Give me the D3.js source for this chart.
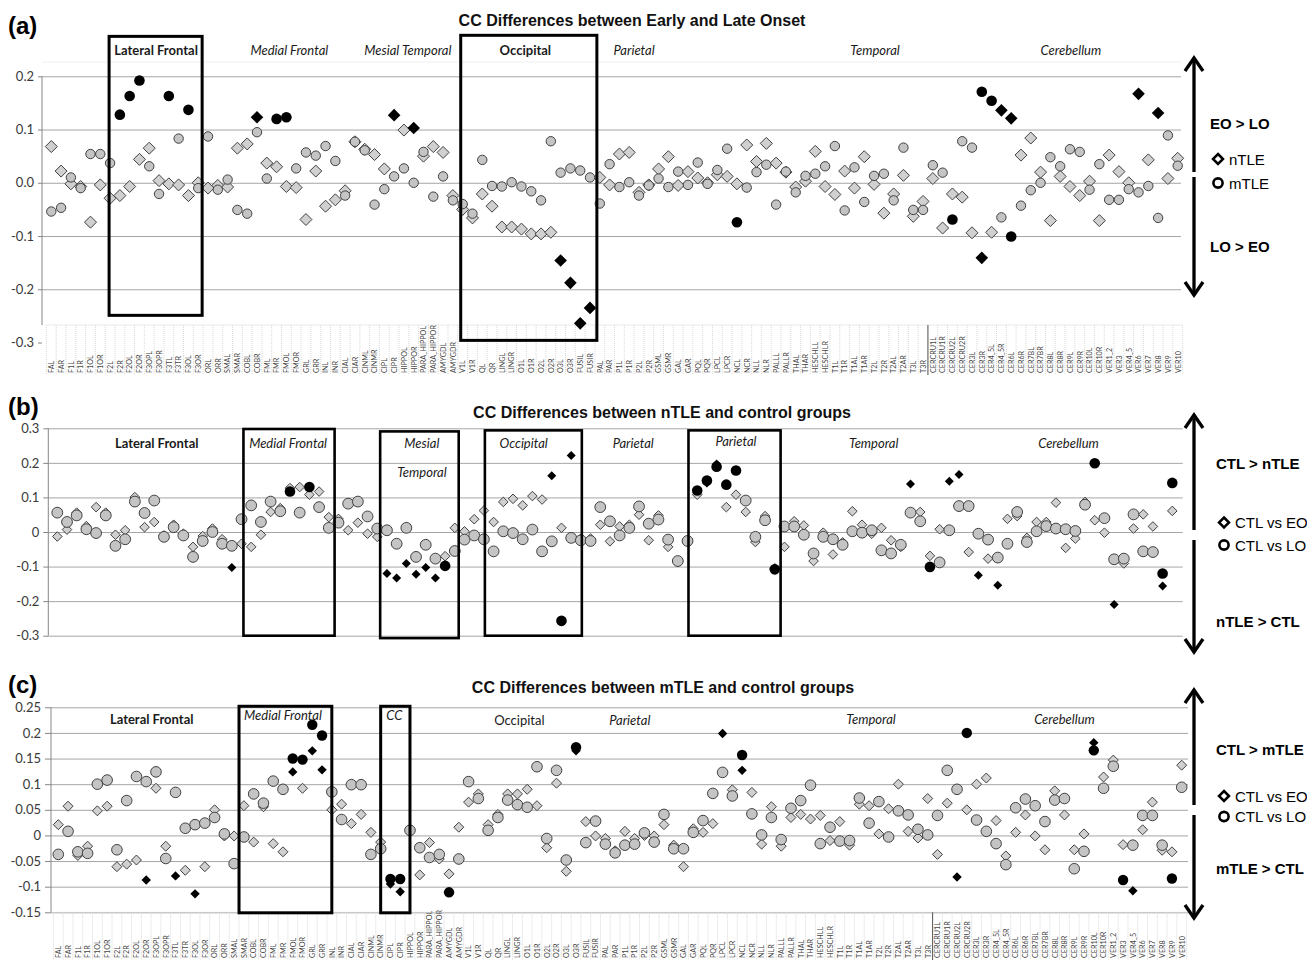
<!DOCTYPE html>
<html>
<head>
<meta charset="utf-8">
<script src="https://cdn.jsdelivr.net/npm/d3@7"></script>
<style>
body { margin: 0; background: #fff; }
svg { display: block; }
</style>
</head>
<body>
<div id="chart"></div>
<script>
(function(){

var width = 1307,
	height = 961;

// brain regions along the x axis (same order in all three panels)
var regions = ["FAL","FAR","F1L","F1R","F1OL","F1OR","F2L","F2R","F2OL","F2OR",
	"F3OPL","F3OPR","F3TL","F3TR","F3OL","F3OR","ORL","ORR","SMAL","SMAR",
	"COBL","COBR","FML","FMR","FMOL","FMOR","GRL","GRR","INL","INR",
	"CIAL","CIAR","CINML","CINMR","CIPL","CIPR","HIPPOL","HIPPOR","PARA_HIPPOL","PARA_HIPPOR",
	"AMYGDL","AMYGDR","V1L","V1R","QL","QR","LINGL","LINGR","O1L","O1R",
	"O2L","O2R","O3L","O3R","FUSIL","FUSIR","PAL","PAR","P1L","P1R",
	"P2L","P2R","GSML","GSMR","GAL","GAR","PQL","PQR","LPCL","LPCR",
	"NCL","NCR","NLL","NLR","PALLL","PALLR","THAL","THAR","HESCHLL","HESCHLR",
	"T1L","T1R","T1AL","T1AR","T2L","T2R","T2AL","T2AR","T3L","T3R",
	"CERCRU1L","CERCRU1R","CERCRU2L","CERCRU2R","CER3L","CER3R","CER4_5L","CER4_5R","CER6L","CER6R",
	"CER7BL","CER7BR","CER8L","CER8R","CER9L","CER9R","CER10L","CER10R","VER1_2","VER3",
	"VER4_5","VER6","VER7","VER8","VER9","VER10"];

// (a) early minus late onset : nTLE (diamonds), mTLE (circles)
var a_ntle = [0.068,0.022,-0.002,-0.007,-0.074,-0.004,-0.029,-0.024,-0.007,0.044,
	0.065,0.004,-0.002,-0.004,-0.024,0.000,-0.010,-0.005,-0.008,0.065,
	0.073,0.123,0.037,0.030,-0.007,-0.009,-0.069,0.022,-0.044,-0.032,
	-0.015,0.077,0.063,0.053,0.026,0.127,0.099,0.103,0.050,0.068,
	0.057,-0.024,-0.050,-0.066,-0.021,-0.044,-0.083,-0.083,-0.087,-0.096,
	-0.096,-0.093,-0.146,-0.188,-0.264,-0.235,0.010,-0.004,0.054,0.057,
	-0.018,-0.004,0.026,0.049,-0.005,0.021,0.009,0.000,0.015,0.012,
	-0.002,0.071,0.040,0.074,0.037,0.020,-0.008,0.003,0.059,-0.007,
	-0.022,0.022,-0.010,0.049,-0.003,-0.057,-0.021,0.014,-0.063,-0.035,
	0.008,-0.085,-0.021,-0.027,-0.094,-0.141,-0.093,0.136,0.121,0.052,
	0.084,0.020,-0.071,0.012,-0.007,-0.024,0.003,-0.071,0.052,0.021,
	0.000,0.167,0.043,0.131,0.008,0.046];
var a_mtle = [-0.054,-0.047,0.010,-0.010,0.054,0.054,0.037,0.128,0.163,0.192,
	0.031,-0.021,0.163,0.083,0.137,-0.010,0.087,-0.013,0.006,-0.051,
	-0.058,0.095,0.008,0.120,0.123,0.027,0.057,0.051,0.069,0.041,
	-0.024,0.077,0.061,-0.041,-0.012,0.012,0.027,0.000,0.058,-0.026,
	0.012,-0.033,-0.040,-0.058,0.043,-0.006,-0.007,0.001,-0.007,-0.016,
	-0.033,0.078,0.019,0.027,0.023,0.010,-0.039,0.035,-0.008,0.001,
	-0.024,-0.005,0.008,-0.008,0.021,-0.004,0.038,-0.002,0.024,0.064,
	-0.074,-0.009,0.020,0.034,-0.041,0.021,-0.018,0.013,0.017,0.031,
	0.069,-0.052,0.029,-0.036,0.013,0.017,-0.033,0.066,-0.051,-0.051,
	0.033,0.019,-0.069,0.078,0.066,0.171,0.154,-0.065,-0.101,-0.043,
	-0.014,0.000,0.048,0.031,0.063,0.058,-0.013,0.035,-0.032,-0.032,
	-0.012,-0.018,-0.006,-0.066,0.089,0.032];
var a_ntle_sig = [21,35,37,52,53,54,55,95,97,98,111,113];
var a_mtle_sig = [7,8,9,12,14,23,24,70,92,95,96,98];

// (b) control minus nTLE : CTL vs EO (diamonds), CTL vs LO (circles)
var b_eo = [-0.013,0.007,0.056,0.017,0.072,0.056,-0.008,0.005,0.101,0.014,
	0.029,-0.010,0.021,-0.005,-0.043,-0.012,0.010,-0.021,-0.103,-0.034,
	-0.043,-0.008,0.058,0.069,0.127,0.130,0.108,0.117,0.043,0.038,
	0.005,0.027,-0.005,-0.014,-0.120,-0.133,-0.091,-0.122,-0.103,-0.133,
	-0.070,0.012,0.002,0.037,0.062,0.029,0.087,0.096,0.077,0.104,
	0.094,0.163,0.012,0.221,-0.020,-0.019,0.021,-0.027,0.016,0.021,
	0.050,-0.024,0.048,-0.043,-0.087,-0.025,0.108,0.142,0.197,0.072,
	0.108,0.058,-0.029,0.046,-0.105,-0.043,0.031,0.019,-0.084,-0.002,
	-0.065,-0.030,0.060,0.021,-0.005,0.012,-0.024,-0.043,0.139,0.058,
	-0.069,0.008,0.147,0.166,-0.058,-0.125,-0.077,-0.154,0.038,0.046,
	-0.017,0.029,0.029,0.085,-0.046,-0.019,0.087,0.034,-0.002,-0.210,
	-0.091,0.010,0.051,0.016,-0.156,0.061];
var b_lo = [0.056,0.029,0.048,0.008,-0.003,0.048,-0.040,-0.021,0.088,0.055,
	0.091,-0.014,0.014,-0.010,-0.072,-0.026,0.000,-0.034,-0.040,0.037,
	0.077,0.029,0.088,0.060,0.117,0.056,0.130,0.072,0.012,0.027,
	0.082,0.088,0.045,0.010,0.005,-0.034,0.012,-0.072,-0.037,-0.077,
	-0.098,-0.055,-0.022,-0.010,-0.021,-0.056,0.002,-0.003,-0.021,0.007,
	-0.056,-0.027,-0.257,-0.017,-0.024,-0.026,0.072,0.031,-0.010,0.012,
	0.074,0.024,0.036,-0.022,-0.084,-0.026,0.120,0.149,0.189,0.137,
	0.178,0.091,-0.014,0.034,-0.108,0.016,0.016,-0.008,-0.062,-0.014,
	-0.021,-0.037,0.002,-0.002,0.005,-0.053,-0.062,-0.037,0.056,0.031,
	-0.101,-0.088,0.005,0.075,0.075,-0.005,-0.022,-0.074,-0.034,0.058,
	-0.029,0.002,0.017,0.010,0.008,0.003,0.079,0.199,0.040,-0.079,
	-0.077,0.051,-0.056,-0.058,-0.120,0.142];
var b_eo_sig = [18,34,35,36,37,38,39,51,53,67,68,88,92,93,95,97,109,114];
var b_lo_sig = [24,26,40,52,66,67,68,69,70,74,90,107,114,115];

// (c) control minus mTLE : CTL vs EO (diamonds), CTL vs LO (circles)
var c_eo = [0.021,0.057,-0.039,-0.021,0.048,0.057,-0.061,-0.056,-0.048,-0.087,
	0.092,-0.021,-0.079,-0.068,-0.114,-0.061,0.050,-0.001,-0.001,0.058,
	-0.013,0.056,-0.016,-0.032,0.124,0.092,0.165,0.128,0.050,0.061,
	0.023,0.041,0.006,-0.013,-0.095,-0.110,0.011,-0.077,-0.014,-0.046,
	-0.075,0.016,0.065,0.081,0.021,0.041,0.081,0.081,0.090,0.058,
	-0.024,0.102,-0.070,0.165,0.027,-0.001,-0.006,-0.030,0.008,-0.006,
	0.000,-0.001,0.021,-0.019,-0.061,0.013,0.006,0.023,0.199,0.089,
	0.127,0.084,-0.017,0.056,-0.021,0.035,0.041,0.032,0.039,-0.010,
	0.027,-0.019,0.061,0.058,0.003,0.052,0.100,0.008,-0.005,0.072,
	-0.037,0.063,-0.081,0.050,0.100,0.112,0.029,-0.040,0.006,0.040,
	-0.001,-0.028,0.087,0.040,-0.028,0.003,0.181,0.114,0.147,-0.018,
	-0.108,0.011,0.065,-0.029,-0.032,0.137];
var c_lo = [-0.037,0.008,-0.032,-0.035,0.100,0.108,-0.028,0.068,0.115,0.105,
	0.124,-0.045,0.084,0.014,0.021,0.024,0.035,0.003,-0.055,-0.003,
	0.081,0.063,0.106,0.090,0.150,0.148,0.216,0.195,0.085,0.031,
	0.099,0.099,-0.037,-0.026,-0.085,-0.085,0.010,-0.024,-0.043,-0.037,
	-0.111,-0.046,0.105,0.072,0.010,0.035,0.069,0.060,0.055,0.134,
	-0.006,0.127,-0.048,0.172,-0.014,0.028,-0.017,-0.034,-0.019,-0.017,
	0.005,-0.013,0.041,-0.026,-0.026,0.006,0.029,0.082,0.123,0.077,
	0.157,0.042,0.001,0.035,-0.008,0.053,0.068,0.098,-0.016,0.016,
	-0.011,-0.010,0.073,0.024,0.066,-0.003,0.048,0.040,0.012,0.001,
	0.039,0.127,0.090,0.200,0.030,0.008,-0.016,-0.057,0.054,0.071,
	0.058,0.027,0.069,0.072,-0.065,-0.031,0.166,0.092,0.135,-0.087,
	-0.019,0.039,0.039,-0.019,-0.084,0.094];
var c_eo_sig = [9,12,14,24,26,27,34,35,53,68,70,92,106,110];
var c_lo_sig = [24,25,26,27,34,35,40,53,70,93,106,109,114];

// y tick values
var a_ticks = [0.2,0.1,0,-0.1,-0.2,-0.3];
var b_ticks = [0.3,0.2,0.1,0,-0.1,-0.2,-0.3];
var c_ticks = [0.25,0.2,0.15,0.1,0.05,0,-0.05,-0.1,-0.15];

var titleFont = "'Liberation Sans', Arial, sans-serif",
	bodyFont = "Lato, 'Open Sans', sans-serif",
	grayDiamond = "#d0d0d0",
	grayCircle = "#c4c4c4",
	markerStroke = "#404040",
	gridColor = "#a6a6a6",
	axisColor = "#868686";

var panels = [
	{
		tag: "(a)", tagY: 34,
		title: "CC Differences between Early and Late Onset", titleX: 632, titleY: 26,
		dia: a_ntle, cir: a_mtle, diaSig: a_ntle_sig, cirSig: a_mtle_sig,
		xRange: [51.3, 1177.7], yDomain: [-0.3, 0.2], yRange: [342.5, 76.3],
		grid: [0.2,0.1,0,-0.1,-0.2], ticks: a_ticks, fmt: function(d){ return d.toFixed(1); },
		gridX: [42, 1181], axisX: 42, axisTop: 76.3, axisBottom: 325, tickLen: 4,
		catY: 325, labelsBottom: 373,
		r: 4.7, d: 6.0, rSig: 5.3, dSig: 6.3, boxStroke: 3,
		topLine: 62,
		boxes: [{from: 5.9, to: 15.4, top: 0.275, bottom: -0.249},
			{from: 41.8, to: 55.7, top: 0.277, bottom: -0.296}],
		labels: [
			{name: "Lateral Frontal", at: 10.7, y: 54.5, bold: true},
			{name: "Medial Frontal", at: 24.3, y: 54.5, italic: true},
			{name: "Mesial Temporal", at: 36.4, y: 54.5, italic: true},
			{name: "Occipital", at: 48.4, y: 54.5, bold: true},
			{name: "Parietal", at: 59.5, y: 54.5, italic: true},
			{name: "Temporal", at: 84.1, y: 54.5, italic: true},
			{name: "Cerebellum", at: 104.1, y: 54.5, italic: true}],
		side: {top: 58, bottom: 295, gapTop: 172, gapBottom: 177, textX: 1210,
			up: "EO > LO", upY: 129, down: "LO > EO", downY: 252,
			dia: "nTLE", diaY: 159, cir: "mTLE", cirY: 183}
	},
	{
		tag: "(b)", tagY: 415,
		title: "CC Differences between nTLE and control groups", titleX: 662, titleY: 418,
		dia: b_eo, cir: b_lo, diaSig: b_eo_sig, cirSig: b_lo_sig,
		xRange: [57.3, 1172.3], yDomain: [-0.3, 0.3], yRange: [635.7, 428.3],
		grid: b_ticks, ticks: b_ticks, fmt: function(d){ return String(+d.toFixed(2)); },
		gridX: [48.3, 1182.7], axisX: 48.3, axisTop: 428.3, axisBottom: 635.7, tickLen: 5,
		r: 5.4, d: 4.8, rSig: 5.3, dSig: 4.5, boxStroke: 2.6,
		boxes: [{from: 19.2, to: 28.6, top: 0.298, bottom: -0.300},
			{from: 33.3, to: 41.4, top: 0.291, bottom: -0.307},
			{from: 44.1, to: 54.1, top: 0.294, bottom: -0.300},
			{from: 65.1, to: 74.6, top: 0.294, bottom: -0.300}],
		labels: [
			{name: "Lateral Frontal", at: 10.25, y: 447.5, bold: true},
			{name: "Medial Frontal", at: 23.8, y: 447.5, italic: true},
			{name: "Mesial", at: 37.6, y: 447.5, italic: true},
			{name: "Temporal", at: 37.6, y: 476.5, italic: true},
			{name: "Occipital", at: 48.1, y: 447.5, italic: true},
			{name: "Parietal", at: 59.4, y: 447.5, italic: true},
			{name: "Parietal", at: 70.0, y: 445.5, italic: true},
			{name: "Temporal", at: 84.2, y: 447.5, italic: true},
			{name: "Cerebellum", at: 104.3, y: 447.5, italic: true}],
		side: {top: 415, bottom: 652, gapTop: 530, gapBottom: 540, textX: 1216,
			up: "CTL > nTLE", upY: 468.5, down: "nTLE > CTL", downY: 627,
			dia: "CTL vs EO", diaY: 522.5, cir: "CTL vs LO", cirY: 545}
	},
	{
		tag: "(c)", tagY: 693,
		title: "CC Differences between mTLE and control groups", titleX: 663, titleY: 692.5,
		dia: c_eo, cir: c_lo, diaSig: c_eo_sig, cirSig: c_lo_sig,
		xRange: [58.3, 1181.7], yDomain: [-0.15, 0.25], yRange: [912.3, 707.3],
		grid: c_ticks, ticks: c_ticks, fmt: function(d){ return String(+d.toFixed(2)); },
		gridX: [51, 1188], axisX: 51, axisTop: 707.3, axisBottom: 912.3, tickLen: 6,
		catY: 912.3, labelsBottom: 958,
		r: 5.3, d: 5.0, rSig: 5.2, dSig: 4.7, boxStroke: 3,
		boxes: [{from: 18.5, to: 28.0, top: 0.252, bottom: -0.151},
			{from: 33.0, to: 36.0, top: 0.252, bottom: -0.151}],
		labels: [
			{name: "Lateral Frontal", at: 9.56, y: 724, bold: true},
			{name: "Medial Frontal", at: 23.0, y: 719.5, italic: true},
			{name: "CC", at: 34.4, y: 719.5, italic: true},
			{name: "Occipital", at: 47.2, y: 724.5},
			{name: "Parietal", at: 58.5, y: 724.5, italic: true},
			{name: "Temporal", at: 83.2, y: 723.5, italic: true},
			{name: "Cerebellum", at: 103.0, y: 723.5, italic: true}],
		side: {top: 690, bottom: 918, gapTop: 805, gapBottom: 815, textX: 1216,
			up: "CTL > mTLE", upY: 754.5, down: "mTLE > CTL", downY: 873.5,
			dia: "CTL vs EO", diaY: 796, cir: "CTL vs LO", cirY: 816.5}
	}
];

var svg = d3.select("#chart").append("svg")
	.attr("width", width)
	.attr("height", height)
	.style("background", "#fff");

function diamond(h){
	return "M0," + (-h) + "L" + h + ",0L0," + h + "L" + (-h) + ",0Z";
}

panels.forEach(drawPanel);

function drawPanel(p){

	var g = svg.append("g");

	var x = d3.scalePoint().domain(regions).range(p.xRange);
	var y = d3.scaleLinear().domain(p.yDomain).range(p.yRange);
	var step = x.step();
	var xi = function(f){ return p.xRange[0] + f * step; };

	// panel tag and title
	g.append("text")
		.attr("x", 8).attr("y", p.tagY)
		.attr("font-family", titleFont).attr("font-weight", "bold").attr("font-size", 24)
		.text(p.tag);

	g.append("text")
		.attr("x", p.titleX).attr("y", p.titleY)
		.attr("text-anchor", "middle")
		.attr("font-family", titleFont).attr("font-weight", "bold").attr("font-size", 16)
		.attr("fill", "#111")
		.text(p.title);

	if (p.topLine) {
		g.append("line")
			.attr("x1", p.gridX[0]).attr("x2", p.gridX[1])
			.attr("y1", p.topLine).attr("y2", p.topLine)
			.attr("stroke", "#efefef");
	}

	// gridlines
	g.append("g")
		.attr("transform", "translate(" + p.gridX[0] + ",0)")
		.call(d3.axisLeft(y).tickValues(p.grid).tickSize(-(p.gridX[1] - p.gridX[0])).tickFormat(""))
		.call(function(s){
			s.select(".domain").remove();
			s.selectAll("line").attr("stroke", gridColor);
		});

	// y axis
	g.append("g")
		.attr("transform", "translate(" + p.axisX + ",0)")
		.call(d3.axisLeft(y).tickValues(p.ticks).tickSize(p.tickLen).tickPadding(4).tickFormat(p.fmt))
		.call(function(s){
			s.select(".domain").remove();
			s.selectAll("line").attr("stroke", axisColor);
			s.selectAll("text")
				.attr("font-family", bodyFont).attr("font-size", 13).attr("fill", "#3a3a3a");
		});

	g.append("line")
		.attr("x1", p.axisX).attr("x2", p.axisX)
		.attr("y1", p.axisTop).attr("y2", p.axisBottom)
		.attr("stroke", axisColor);

	// category axis with rotated labels
	if (p.labelsBottom) {
		var ax = g.append("g")
			.attr("transform", "translate(0," + p.catY + ")")
			.call(d3.axisBottom(x).tickSize(0).tickPadding(0));
		ax.select(".domain").remove();
		ax.selectAll("text")
			.attr("transform", "rotate(-90)")
			.attr("x", -(p.labelsBottom - p.catY)).attr("y", 0).attr("dy", "0.32em")
			.attr("text-anchor", "start")
			.attr("font-family", bodyFont).attr("font-size", 7.2).attr("fill", "#444");

		g.append("line")
			.attr("x1", xi(-0.5)).attr("x2", xi(regions.length - 0.5))
			.attr("y1", p.catY).attr("y2", p.catY)
			.attr("stroke", "#d4d4d4").attr("stroke-dasharray", "1,1");

		g.selectAll(".sep").data(d3.range(regions.length + 1)).enter().append("line")
			.attr("x1", function(i){ return xi(i - 0.5); })
			.attr("x2", function(i){ return xi(i - 0.5); })
			.attr("y1", p.catY).attr("y2", p.labelsBottom + 2)
			.attr("stroke", "#d8d8d8").attr("stroke-dasharray", "1,1");

		var k = regions.indexOf("CERCRU1L");
		g.append("line")
			.attr("x1", xi(k - 0.5)).attr("x2", xi(k - 0.5))
			.attr("y1", p.catY).attr("y2", p.labelsBottom + 2)
			.attr("stroke", "#555");
	}

	// region labels
	g.selectAll(".region").data(p.labels).enter().append("text")
		.attr("x", function(d){ return xi(d.at); })
		.attr("y", function(d){ return d.y; })
		.attr("text-anchor", "middle")
		.attr("font-family", bodyFont).attr("font-size", 13)
		.attr("font-weight", function(d){ return d.bold ? "bold" : "normal"; })
		.attr("font-style", function(d){ return d.italic ? "italic" : "normal"; })
		.attr("fill", "#1a1a1a")
		.text(function(d){ return d.name; });

	// markers
	var dia = p.dia.map(function(v, i){ return {name: regions[i], v: v, sig: p.diaSig.indexOf(i) >= 0}; });
	var cir = p.cir.map(function(v, i){ return {name: regions[i], v: v, sig: p.cirSig.indexOf(i) >= 0}; });

	g.selectAll(".dia").data(dia.filter(function(d){ return !d.sig; })).enter().append("path")
		.attr("transform", function(d){ return "translate(" + x(d.name) + "," + y(d.v) + ")"; })
		.attr("d", diamond(p.d))
		.attr("fill", grayDiamond).attr("stroke", markerStroke).attr("stroke-width", 1);

	g.selectAll(".cir").data(cir.filter(function(d){ return !d.sig; })).enter().append("circle")
		.attr("cx", function(d){ return x(d.name); })
		.attr("cy", function(d){ return y(d.v); })
		.attr("r", p.r)
		.attr("fill", grayCircle).attr("stroke", markerStroke).attr("stroke-width", 1);

	g.selectAll(".diasig").data(dia.filter(function(d){ return d.sig; })).enter().append("path")
		.attr("transform", function(d){ return "translate(" + x(d.name) + "," + y(d.v) + ")"; })
		.attr("d", diamond(p.dSig))
		.attr("fill", "#000");

	g.selectAll(".cirsig").data(cir.filter(function(d){ return d.sig; })).enter().append("circle")
		.attr("cx", function(d){ return x(d.name); })
		.attr("cy", function(d){ return y(d.v); })
		.attr("r", p.rSig)
		.attr("fill", "#000");

	// highlighted boxes
	g.selectAll(".box").data(p.boxes).enter().append("rect")
		.attr("x", function(d){ return xi(d.from); })
		.attr("width", function(d){ return xi(d.to) - xi(d.from); })
		.attr("y", function(d){ return y(d.top); })
		.attr("height", function(d){ return y(d.bottom) - y(d.top); })
		.attr("fill", "none").attr("stroke", "#000").attr("stroke-width", p.boxStroke);

	drawSide(p.side);
}

// double arrow with direction texts and legend on the right
function drawSide(s){
	var a = svg.append("g"),
		ax = 1194,
		head = 13;

	a.append("line").attr("x1", ax).attr("x2", ax).attr("y1", s.top + 1).attr("y2", s.gapTop)
		.attr("stroke", "#000").attr("stroke-width", 3.3);
	a.append("line").attr("x1", ax).attr("x2", ax).attr("y1", s.gapBottom).attr("y2", s.bottom - 1)
		.attr("stroke", "#000").attr("stroke-width", 3.3);
	a.append("path")
		.attr("d", "M" + (ax - 9) + "," + (s.top + head) + "L" + ax + "," + s.top + "L" + (ax + 9) + "," + (s.top + head))
		.attr("fill", "none").attr("stroke", "#000").attr("stroke-width", 3.3);
	a.append("path")
		.attr("d", "M" + (ax - 9) + "," + (s.bottom - head) + "L" + ax + "," + s.bottom + "L" + (ax + 9) + "," + (s.bottom - head))
		.attr("fill", "none").attr("stroke", "#000").attr("stroke-width", 3.3);

	a.append("text").attr("x", s.textX).attr("y", s.upY)
		.attr("font-family", titleFont).attr("font-weight", "bold").attr("font-size", 15)
		.text(s.up);
	a.append("text").attr("x", s.textX).attr("y", s.downY)
		.attr("font-family", titleFont).attr("font-weight", "bold").attr("font-size", 15)
		.text(s.down);

	a.append("path")
		.attr("transform", "translate(" + (s.textX + 8) + "," + s.diaY + ")")
		.attr("d", diamond(5))
		.attr("fill", "#fff").attr("stroke", "#000").attr("stroke-width", 2.5);
	a.append("text").attr("x", s.textX + 19).attr("y", s.diaY + 5.5)
		.attr("font-family", titleFont).attr("font-size", 15)
		.text(s.dia);

	a.append("circle")
		.attr("cx", s.textX + 8).attr("cy", s.cirY)
		.attr("r", 4.6)
		.attr("fill", "#fff").attr("stroke", "#000").attr("stroke-width", 2.6);
	a.append("text").attr("x", s.textX + 19).attr("y", s.cirY + 5.5)
		.attr("font-family", titleFont).attr("font-size", 15)
		.text(s.cir);
}

})();
</script>
</body>
</html>
